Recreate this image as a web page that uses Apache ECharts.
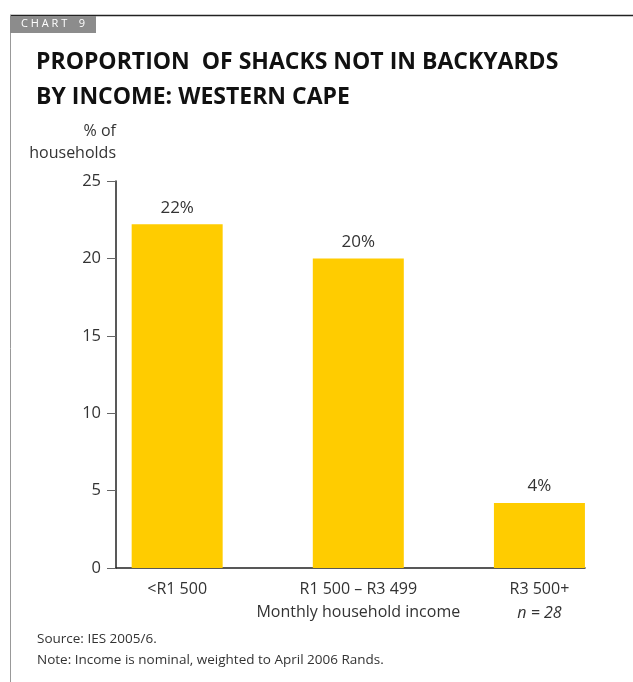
<!DOCTYPE html>
<html><head><meta charset="utf-8">
<script src="https://cdn.jsdelivr.net/npm/echarts@6/dist/echarts.min.js"></script>
<style>html,body{margin:0;padding:0;background:#fff}#c{width:633px;height:682px}</style>
</head><body><div id="c"></div>
<script>
const categories = ['<R1 500', 'R1 500 – R3 499', 'R3 500+'];
const values = [22.2, 20.0, 4.2];
const yTicks = [0, 5, 10, 15, 20, 25];
const notes = ['Source: IES 2005/6.', 'Note: Income is nominal, weighted to April 2006 Rands.'];
const FONT = 'Open Sans';
const chart = echarts.init(document.getElementById('c'), null, {renderer: 'canvas'});
chart.setOption({
  animation: false,
  textStyle: {fontFamily: FONT},
  graphic: [
    {type: 'line', shape: {x1: 10, y1: 15.5, x2: 633, y2: 15.5}, style: {stroke: '#222', lineWidth: 1.5}},
    {type: 'line', shape: {x1: 10.5, y1: 15, x2: 10.5, y2: 682}, style: {stroke: '#999', lineWidth: 1}},
    {type: 'rect', shape: {x: 10, y: 16, width: 86, height: 17}, style: {fill: '#8c8c8c'}},
    {type: 'text', left: 21, top: 18, style: {text: 'C H A R T    9', fill: '#fff', font: '11px ' + FONT}},
    {type: 'text', left: 36, top: 45, style: {text: 'PROPORTION  OF SHACKS NOT IN BACKYARDS\nBY INCOME: WESTERN CAPE', fill: '#111', font: 'bold 23px ' + FONT, lineHeight: 35}},
    {type: 'text', left: 37, top: 629, style: {text: notes.join('\n'), fill: '#333', font: '13.5px ' + FONT, lineHeight: 21}}
  ],
  grid: [
    {left: 86.6, right: 3, top: 181, bottom: 114},
    {left: 116, right: 48, top: 181, bottom: 114}
  ],
  xAxis: [
    {type: 'category', data: categories, gridIndex: 0,
     axisLine: {show: false}, axisTick: {show: false},
     axisLabel: {color: '#333', fontSize: 16, margin: 9, lineHeight: 24,
       formatter: function (v, i) { return i === 2 ? v + '\n{it|n = 28}' : v; },
       rich: {it: {fontStyle: 'italic', fontSize: 16, color: '#333', lineHeight: 24}}},
     name: 'Monthly household income', nameLocation: 'middle', nameGap: 36, nameMoveOverlap: false,
     nameTextStyle: {color: '#333', fontSize: 16}},
    {type: 'value', gridIndex: 1, min: 0, max: 1,
     axisLine: {show: true, lineStyle: {color: '#222', width: 1.5}},
     axisTick: {show: false}, axisLabel: {show: false}, splitLine: {show: false}}
  ],
  yAxis: [
    {type: 'value', gridIndex: 0, min: 0, max: 25, interval: 5, offset: -29.4,
     axisLine: {show: true, lineStyle: {color: '#222', width: 1.5}},
     axisTick: {show: true, length: 9, lineStyle: {color: '#666'}},
     axisLabel: {color: '#333', fontSize: 16.5, margin: 15,
       formatter: function (v) { return yTicks.indexOf(v) >= 0 ? String(v) : ''; }},
     splitLine: {show: false},
     name: '% of\nhouseholds', nameLocation: 'end', nameGap: 17, nameMoveOverlap: false,
     nameTextStyle: {color: '#333', fontSize: 16, align: 'right', verticalAlign: 'bottom', lineHeight: 22}},
    {type: 'value', gridIndex: 1, show: false, min: 0, max: 1}
  ],
  series: [{
    type: 'bar', xAxisIndex: 0, yAxisIndex: 0, data: values, barWidth: 91,
    itemStyle: {color: '#ffcc00'},
    label: {show: true, position: 'top', distance: 8, color: '#333', fontSize: 17,
      formatter: function (p) { return Math.round(p.value) + '%'; }}
  }]
});
</script></body></html>
